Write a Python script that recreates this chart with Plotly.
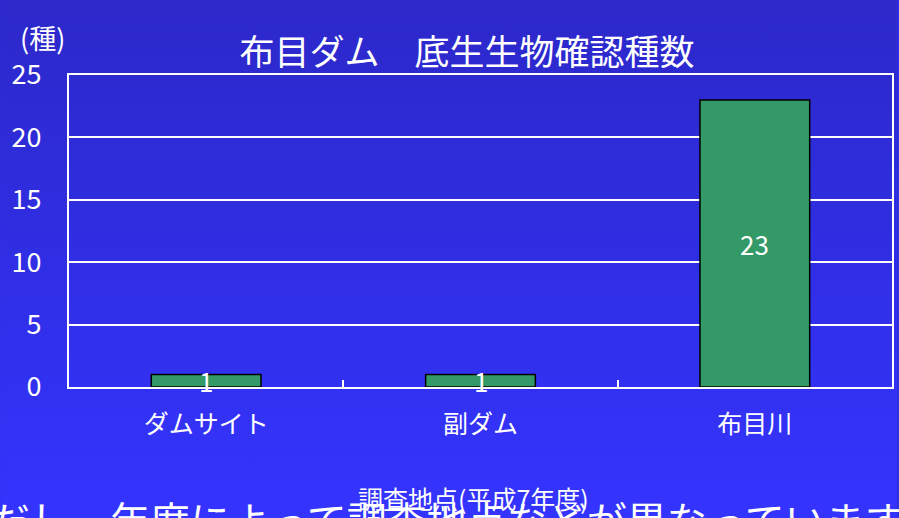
import base64
import plotly.graph_objects as go

categories = ["ダムサイト", "副ダム", "布目川"]
values = [1, 1, 23]
y_ticks = [0, 5, 10, 15, 20, 25]

title_text = "布目ダム　底生生物確認種数"
y_unit = "(種)"
x_title = "調査地点(平成7年度)"
page_text = "ただし、年度によって調査地点などが異なっています"

FONT = "Noto Sans CJK JP"
W, H = 899, 518
L, R, T, B = 69, 5, 75, 131
PW, PH = W - L - R, H - T - B

def px(x):
    return (x - L) / PW

def py(y):
    return (H - B - y) / PH

svg = (
    '<svg xmlns="http://www.w3.org/2000/svg" width="899" height="518" preserveAspectRatio="none">'
    '<defs><linearGradient id="g" x1="0" y1="0" x2="0" y2="1">'
    '<stop offset="0" stop-color="#2C28C9"/><stop offset="1" stop-color="#3434FF"/>'
    '</linearGradient></defs><rect width="899" height="518" fill="url(#g)"/></svg>'
)
bg = "data:image/svg+xml;base64," + base64.b64encode(svg.encode()).decode()

fig = go.Figure()
fig.add_trace(go.Bar(
    x=categories, y=values, width=0.4,
    marker=dict(color="#339966", line=dict(color="#000000", width=1.5)),
    hoverinfo="skip",
))

annotations = [
    dict(x=c, y=v / 2, xref="x", yref="y", text=str(v), showarrow=False,
         font=dict(family=FONT, size=26, color="white"))
    for c, v in zip(categories, values)
]
annotations += [
    dict(x=px(42), y=py(38), xref="paper", yref="paper", text=y_unit, showarrow=False,
         font=dict(family=FONT, size=27, color="white"), xanchor="center", yanchor="middle"),
    dict(x=px(474), y=py(498), xref="paper", yref="paper", text=x_title, showarrow=False,
         font=dict(family=FONT, size=25, color="white"), xanchor="center", yanchor="middle"),
    dict(x=px(-52), y=py(488), xref="paper", yref="paper", text=page_text, showarrow=False,
         font=dict(family=FONT, size=40, color="white"), xanchor="left", yanchor="top"),
]

fig.update_layout(
    width=W, height=H,
    margin=dict(l=L, r=R, t=T, b=B),
    paper_bgcolor="#2F2FE4",
    plot_bgcolor="rgba(0,0,0,0)",
    images=[dict(source=bg, xref="paper", yref="paper", x=px(0), y=py(0),
                 sizex=W / PW, sizey=H / PH, xanchor="left", yanchor="top",
                 sizing="stretch", layer="below")],
    title=dict(text=title_text, x=467 / W, y=1 - 53 / H, xanchor="center", yanchor="middle",
               font=dict(family=FONT, size=35, color="white")),
    showlegend=False,
    annotations=annotations,
    font=dict(family=FONT, color="white"),
)
fig.update_xaxes(
    showline=True, linecolor="white", linewidth=2, mirror=True,
    ticks="inside", tickson="boundaries", ticklen=7, tickcolor="white", tickwidth=2,
    tickfont=dict(family=FONT, size=25, color="white"), ticklabelstandoff=14,
    showgrid=False,
)
fig.update_yaxes(
    range=[0, 25], tickvals=y_ticks, showline=True, linecolor="white", linewidth=2, mirror=True,
    showgrid=True, gridcolor="white", gridwidth=2, zeroline=False,
    tickfont=dict(family=FONT, size=27, color="white"), ticklabelstandoff=20,
)

fig.write_html(
    "out.html",
    config={"displayModeBar": False},
    post_script="document.body.style.margin='0';document.body.style.overflow='hidden';",
)
